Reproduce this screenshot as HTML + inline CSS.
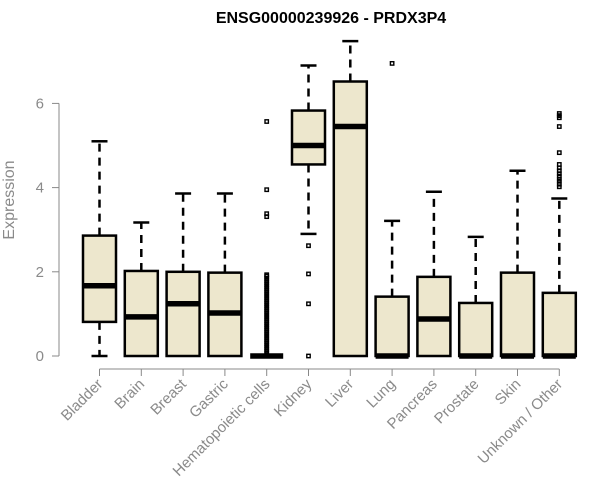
<!DOCTYPE html>
<html><head><meta charset="utf-8"><style>
body{margin:0;background:#fff;}
svg{display:block;font-family:"Liberation Sans",Arial,sans-serif;}
</style></head><body>
<svg id="chart" width="600" height="500">
<text x="331" y="23" text-anchor="middle" font-weight="bold" font-size="16">ENSG00000239926 - PRDX3P4</text>
<text transform="translate(14,200) rotate(-90)" text-anchor="middle" font-size="16" fill="#8a8a8a">Expression</text>
<g id="plot"></g>
</svg>
<script>
const categories=["Bladder","Brain","Breast","Gastric","Hematopoietic cells","Kidney","Liver","Lung","Pancreas","Prostate","Skin","Unknown / Other"];
const whiskerLow=[0,0,0,0,0,2.9,0,0,0,0,0,0];
const q1=[0.81,0,0,0,0,4.55,0,0,0,0,0,0];
const medians=[1.67,0.93,1.24,1.02,0,5.0,5.45,0,0.88,0,0,0];
const q3=[2.86,2.02,2.0,1.98,0,5.83,6.52,1.41,1.88,1.26,1.98,1.5];
const whiskerHigh=[5.1,3.17,3.86,3.86,0,6.9,7.48,3.21,3.9,2.83,4.4,3.74];
const outliers=[[],[],[],[],[0.05,0.1,0.15,0.2,0.25,0.3,0.35,0.4,0.45,0.5,0.55,0.6,0.65,0.7,0.75,0.8,0.85,0.9,0.95,1.0,1.05,1.1,1.15,1.2,1.25,1.3,1.35,1.4,1.45,1.5,1.55,1.6,1.65,1.7,1.75,1.8,1.85,1.9,1.93,3.31,3.38,3.95,5.57],[0,1.24,1.95,2.62],[],[6.95],[],[],[],[4.02,4.08,4.15,4.2,4.27,4.33,4.4,4.47,4.55,4.83,5.45,5.66,5.71,5.76]];
const yTicks=[0,2,4,6];
const NS="http://www.w3.org/2000/svg";
const g=document.getElementById('plot');
const y=v=>356-v*42.1;
const x=i=>99.5+i*41.8;
function mk(t,a){const e=document.createElementNS(NS,t);for(const k in a)e.setAttribute(k,a[k]);g.appendChild(e);return e;}
let ax=mk('line',{x1:59,x2:59,y1:y(6),y2:y(0),stroke:'#888'});


yTicks.forEach(t=>{
 const l=mk('line',{x1:52,x2:59,y1:y(t),y2:y(t),stroke:'#888'});
 
 
 const tx=mk('text',{x:44,y:y(t)+5,'text-anchor':'end','font-size':15,fill:'#8a8a8a'});
 tx.textContent=t;
 
 
});
let xa=mk('line',{x1:x(0),x2:x(11),y1:369,y2:369,stroke:'#888'});


categories.forEach((c,i)=>{
 const cx=x(i),hw=16.5;
 const tk=mk('line',{x1:cx,x2:cx,y1:369,y2:376,stroke:'#888'});
 
 
 const lb=mk('text',{transform:`translate(${cx+4},${385}) rotate(-45)`,'text-anchor':'end','font-size':15,fill:'#8a8a8a'});
 lb.textContent=c;
 
 
 const grp=document.createElementNS(NS,'g');g.appendChild(grp);
 
 
 const add=(t,a)=>{const e=document.createElementNS(NS,t);for(const k in a)e.setAttribute(k,a[k]);grp.appendChild(e);return e;};
 if(whiskerHigh[i]>q3[i]){add('line',{x1:cx,x2:cx,y1:y(q3[i]),y2:y(whiskerHigh[i]),stroke:'#000','stroke-width':2.5,'stroke-dasharray':'8,6'});
  add('line',{x1:cx-8,x2:cx+8,y1:y(whiskerHigh[i]),y2:y(whiskerHigh[i]),stroke:'#000','stroke-width':2.5});}
 if(q1[i]>whiskerLow[i]){add('line',{x1:cx,x2:cx,y1:y(q1[i]),y2:y(whiskerLow[i]),stroke:'#000','stroke-width':2.5,'stroke-dasharray':'8,6'});
  add('line',{x1:cx-8,x2:cx+8,y1:y(whiskerLow[i]),y2:y(whiskerLow[i]),stroke:'#000','stroke-width':2.5});}
 if(q3[i]>q1[i]) add('rect',{x:cx-hw,y:y(q3[i]),width:2*hw,height:y(q1[i])-y(q3[i]),fill:'#ede7cd',stroke:'#000','stroke-width':2.5});
 add('line',{x1:cx-hw,x2:cx+hw,y1:y(medians[i]),y2:y(medians[i]),stroke:'#000','stroke-width':5.5});
 outliers[i].forEach(o=>{add('rect',{x:cx-1.7,y:y(o)-1.7,width:3.4,height:3.4,fill:'none',stroke:'#000','stroke-width':1.4});});
});
</script>
</body></html>
